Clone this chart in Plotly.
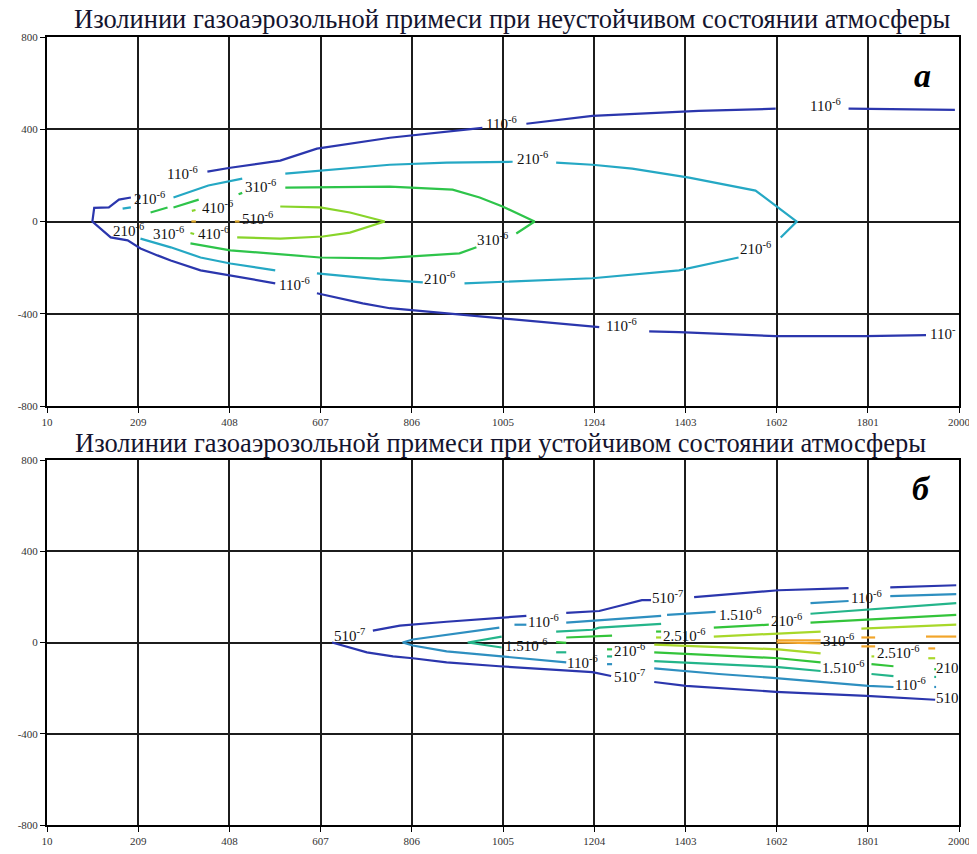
import plotly.graph_objects as go

N = None
# ---------- tick values ----------
x_ticks = [10, 209, 408, 607, 806, 1005, 1204, 1403, 1602, 1801, 2000]
y_ticks = [-800, -400, 0, 400, 800]

title_top = "Изолинии газоаэрозольной примеси при неустойчивом состоянии атмосферы"
title_bot = "Изолинии газоаэрозольной примеси при устойчивом состоянии атмосферы"

# ---------- top panel (unstable) isolines ----------
a_1e6_x = [193, 167, 145, 113, 109, 149, 186, 214, 251, 280, 345, 410, 508, N,
           360, 410, 519, 599, 758, 960, N,
           1056, 1200, 1432, 1600, N,
           1759, 1991, N,
           599, 699, 758, 1004, 1215, N,
           1324, 1389, 1600, 1796, 1928]
a_1e6_y = [104, 95, 61, 59, 0, -69, -82, -117, -147, -169, -212, -233, -268, N,
           216, 233, 264, 316, 363, 406, N,
           424, 458, 480, 489, N,
           489, 484, N,
           -311, -355, -376, -419, -458, N,
           -476, -480, -497, -497, -493]

a_2e6_x = [175, 193, N,
           286, 341, 362, 436, N,
           530, 758, 882, 1026, N,
           1121, 1200, 1287, 1411, 1556, 1646, 1611, N,
           1519, 1389, 1200, 921, N,
           830, 736, 599, N,
           508, 410, 345, 280, 214]
a_2e6_y = [56, 61, N,
           104, 143, 156, 186, N,
           208, 246, 255, 259, N,
           255, 246, 229, 190, 134, 0, -69, N,
           -156, -212, -246, -268, N,
           -264, -251, -225, N,
           -212, -182, -156, -112, -74]

a_3e6_x = [236, 273, N, 286, 341, N, 428, 436, N,
           530, 758, 895, 954, 1004, 1074, 1034, N,
           947, 910, 736, 606, 410, 323]
a_3e6_y = [39, 61, N, 61, 95, N, 118, 124, N,
           147, 151, 138, 104, 65, 0, -52, N,
           -112, -138, -160, -156, -125, -95]

a_4e6_x = [326, 334, N, 323, 331, N,
           519, 606, 671, 747, 671, 612, 519, 425]
a_4e6_y = [46, 50, N, -50, -54, N,
           65, 61, 39, 0, -48, -65, -74, -69]

a_5e6_x = [325, 335, N, 420, 430]
a_5e6_y = [0, 0, N, 0, 0]

# ---------- bottom panel (stable) isolines ----------
b_5e7_x = [721, 780, 882, 997, 1056, N,
           1143, 1200, 1215, 1258, 1308, 1328, N,
           1422, 1472, 1487, 1606, 1759, N,
           1850, 1994, N,
           632, 708, 765, 808, 882, 997, 1200, 1241, N,
           1335, 1404, 1600, 1798, 1948]
b_5e7_y = [52, 74, 91, 108, 117, N,
           130, 134, 138, 160, 186, 186, N,
           199, 207, 212, 229, 238, N,
           242, 251, N,
           0, -43, -61, -69, -87, -104, -130, -147, N,
           -173, -190, -216, -234, -251]

b_1e6_x = [997, 882, 808, 786, 808, 882, 997, 1143, N,
           1030, 1056, N,
           1143, 1258, 1350, N,
           1363, 1469, N,
           1676, 1759, N,
           1850, 1994, N,
           1232, 1243, N,
           1335, 1476, 1600, 1802, 1857, N,
           1946, 1950]
b_1e6_y = [65, 35, 13, 0, -13, -39, -61, -87, N,
           78, 78, N,
           87, 104, 117, N,
           121, 134, N,
           173, 182, N,
           203, 212, N,
           -95, -95, N,
           -113, -138, -156, -190, -195, N,
           -195, -195]

b_15e6_x = [1002, 928, 1002, N,
            1121, 1200, 1215, 1350, N,
            1676, 1994, N,
            1121, 1143, N,
            1232, 1243, N,
            1335, 1606, 1698, N,
            1809, 1857, N,
            1946, 1950]
b_15e6_y = [26, 0, -22, N,
            48, 56, 65, 82, N,
            126, 173, N,
            -43, -43, N,
            -61, -61, N,
            -82, -108, -125, N,
            -138, -147, N,
            -151, -151]

b_2e6_x = [1121, 1143, N,
           1143, 1243, N,
           1339, 1350, N,
           1465, 1585, N,
           1676, 1994, N,
           1232, 1243, N,
           1335, 1606, 1698, N,
           1809, 1857, N,
           1946, 1950]
b_2e6_y = [2, -2, N,
           22, 30, N,
           48, 48, N,
           65, 78, N,
           87, 121, N,
           -30, -30, N,
           -43, -69, -87, N,
           -95, -104, N,
           -117, -117]

b_25e6_x = [1339, 1350, N,
            1465, 1585, 1698, N,
            1787, 1994, N,
            1335, 1606, 1698, N,
            1809, 1815, N,
            1933, 1948]
b_25e6_y = [22, 22, N,
            26, 39, 48, N,
            61, 78, N,
            -9, -30, -48, N,
            -61, -61, N,
            -69, -69]

b_3e6_x = [1602, 1698, N, 1602, 1698, N, 1787, 1817, N, 1787, 1817, N,
           1928, 1994, N, 1933, 1948]
b_3e6_y = [9, 9, N, 0, -4, N, 22, 22, N, -17, -17, N,
           26, 26, N, -26, -26]

# ---------- contour labels (x, y, text) ----------
L6 = "<sup>-6</sup>"
L7 = "<sup>-7</sup>"
labels_top = [
    (306, 212, "110" + L6), (234, 104, "210" + L6), (475, 156, "310" + L6),
    (382, 65, "410" + L6), (469, 17, "510" + L6), (188, -35, "210" + L6),
    (275, -52, "310" + L6), (373, -48, "410" + L6), (549, -272, "110" + L6),
    (1002, 428, "110" + L6), (1069, 277, "210" + L6), (982, -78, "310" + L6),
    (867, -246, "210" + L6), (1263, -450, "110" + L6), (1709, 506, "110" + L6),
    (1556, -117, "210" + L6), (1965, -484, "110<sup>-</sup>"),
]
labels_bot = [
    (671, 35, "510" + L7), (1093, 95, "110" + L6), (1056, -13, "1.510" + L6),
    (1178, -86, "110" + L6), (1282, -147, "510" + L7), (1282, -35, "210" + L6),
    (1365, 199, "510" + L7), (1402, 35, "2.510" + L6), (1524, 125, "1.510" + L6),
    (1624, 99, "210" + L6), (1737, 13, "310" + L6), (1748, -108, "1.510" + L6),
    (1798, 199, "110" + L6), (1867, -43, "2.510" + L6), (1894, -182, "110" + L6),
    (1974, -112, "210"), (1974, -242, "510"),
]

fig = go.Figure()

def add(xs, ys, color, xa, ya):
    fig.add_trace(go.Scatter(x=xs, y=ys, mode="lines", xaxis=xa, yaxis=ya,
                             line=dict(color=color, width=2.2),
                             connectgaps=False, showlegend=False,
                             hoverinfo="skip"))

add(a_1e6_x, a_1e6_y, "#2b36ad", "x", "y")
add(a_2e6_x, a_2e6_y, "#25a8c4", "x", "y")
add(a_3e6_x, a_3e6_y, "#2ec44a", "x", "y")
add(a_4e6_x, a_4e6_y, "#88d42a", "x", "y")
add(a_5e6_x, a_5e6_y, "#d9a425", "x", "y")

add(b_5e7_x, b_5e7_y, "#2b36ad", "x2", "y2")
add(b_1e6_x, b_1e6_y, "#2e8fc0", "x2", "y2")
add(b_15e6_x, b_15e6_y, "#24b58a", "x2", "y2")
add(b_2e6_x, b_2e6_y, "#33c43a", "x2", "y2")
add(b_25e6_x, b_25e6_y, "#a8d82a", "x2", "y2")
add(b_3e6_x, b_3e6_y, "#f2a52a", "x2", "y2")

# pixel geometry (page body has an 8px default margin)
OFF = 8
W, H = 977 - OFF, 854 - OFF
ml, mr, mt, mb = 47 - OFF, 18, 37 - OFF, 29
ph = H - mt - mb
pw = W - ml - mr
top_dom = [(H - mb - (406 - OFF)) / ph, 1.0]
bot_dom = [0.0, (H - mb - (460 - OFF)) / ph]

def py2paper(py):
    return (H - mb - (py - OFF)) / ph

def px2paper(px):
    return ((px - OFF) - ml) / pw

ann = []
lab_font = dict(family="Liberation Serif", size=15, color="#111")
for (x, y, t) in labels_top:
    ann.append(dict(x=x, y=y, xref="x", yref="y", text=t, showarrow=False, font=lab_font))
for (x, y, t) in labels_bot:
    ann.append(dict(x=x, y=y, xref="x2", yref="y2", text=t, showarrow=False, font=lab_font))

title_font = dict(family="Liberation Serif", size=26.5, color="#14142e")
ann.append(dict(x=px2paper(512), y=py2paper(19), xref="paper", yref="paper",
                text=title_top, showarrow=False, font=title_font,
                xanchor="center", yanchor="middle"))
ann.append(dict(x=px2paper(500), y=py2paper(443), xref="paper", yref="paper",
                text=title_bot, showarrow=False, font=title_font,
                xanchor="center", yanchor="middle"))
letter_font = dict(family="Liberation Serif", size=34, color="#000")
ann.append(dict(x=px2paper(933), y=py2paper(55), xref="paper", yref="paper",
                text="<b><i>а</i></b>", showarrow=False, font=letter_font))
ann.append(dict(x=px2paper(933), y=py2paper(488), xref="paper", yref="paper",
                text="<b><i>б</i></b>", showarrow=False, font=letter_font))

axis_common = dict(showgrid=True, gridcolor="#1c1c1c", gridwidth=2,
                   zeroline=True, zerolinecolor="#1c1c1c", zerolinewidth=2,
                   showline=True, linecolor="#000", linewidth=2, mirror=True,
                   ticks="outside", ticklen=5, tickcolor="#000", tickwidth=1,
                   automargin=False,
                   tickfont=dict(family="Liberation Serif", size=11, color="#333"))

fig.update_layout(
    width=W, height=H,
    margin=dict(l=ml, r=mr, t=mt, b=mb, autoexpand=False),
    paper_bgcolor="white", plot_bgcolor="white",
    annotations=ann,
    xaxis=dict(axis_common, range=[10, 2000], tickvals=x_ticks,
               ticktext=[str(v) for v in x_ticks], domain=[0, 1], anchor="y"),
    yaxis=dict(axis_common, range=[-800, 800], tickvals=y_ticks,
               ticktext=[str(v) for v in y_ticks], domain=top_dom, anchor="x"),
    xaxis2=dict(axis_common, range=[10, 2000], tickvals=x_ticks,
                ticktext=[str(v) for v in x_ticks], domain=[0, 1], anchor="y2"),
    yaxis2=dict(axis_common, range=[-800, 800], tickvals=y_ticks,
                ticktext=[str(v) for v in y_ticks], domain=bot_dom, anchor="x2"),
)

fig.write_html("out.html")
